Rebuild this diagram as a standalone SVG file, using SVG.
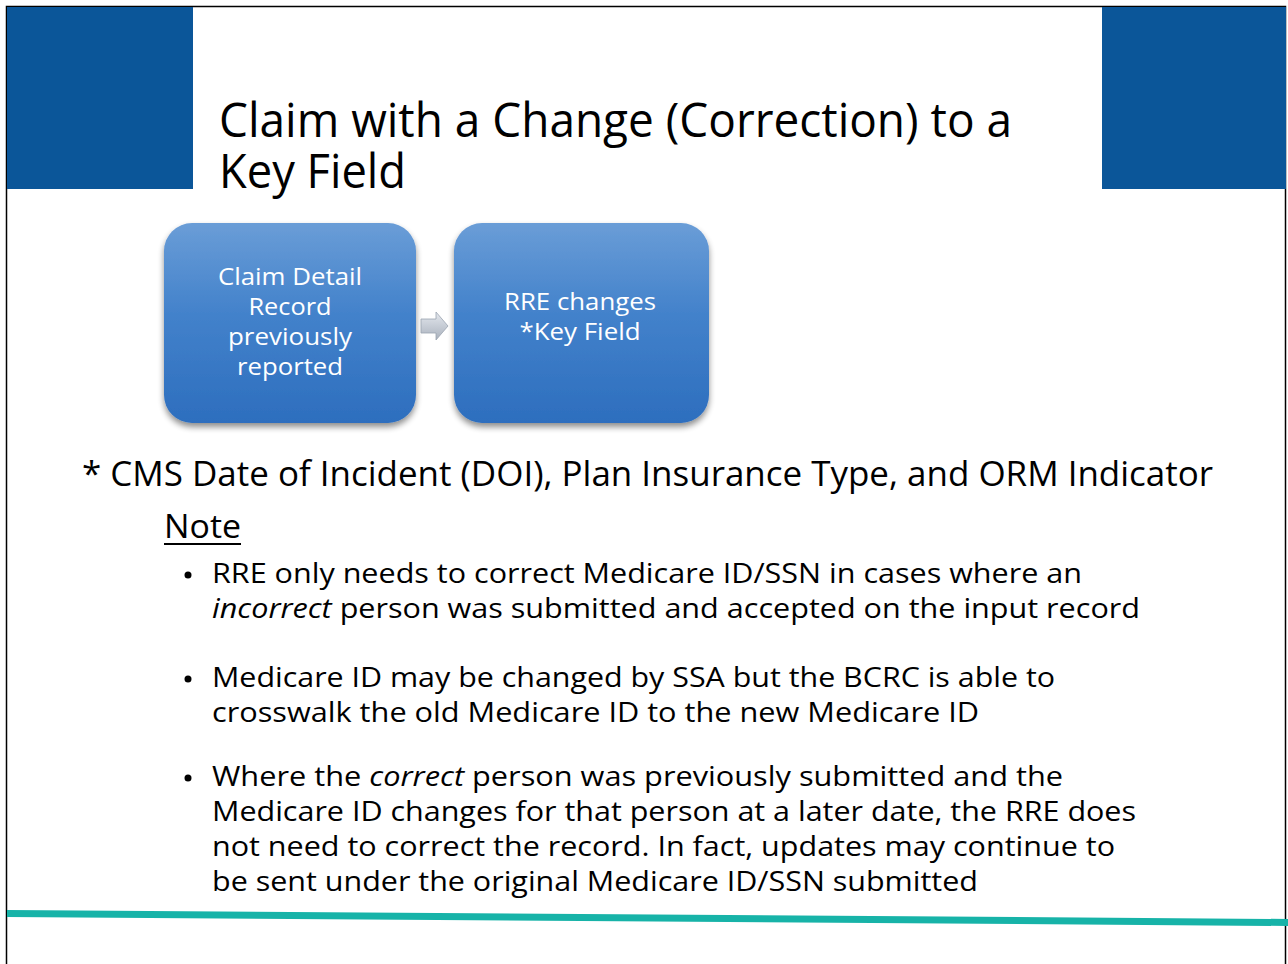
<svg xmlns="http://www.w3.org/2000/svg" width="1288" height="964" viewBox="0 0 1288 964">
<style>
.t{font-family:"Open Sans","Liberation Sans",sans-serif;fill:#000}
.bx{font-family:"Open Sans","Liberation Sans",sans-serif;fill:#fff;font-size:24px;text-anchor:middle}
.b{font-size:27px}
</style>
<defs>
<linearGradient id="g" x1="0" y1="0" x2="0" y2="1">
<stop offset="0" stop-color="#6a9dd7"/>
<stop offset="0.45" stop-color="#4382cb"/>
<stop offset="1" stop-color="#2d6ebe"/>
</linearGradient>
<linearGradient id="ag" x1="0" y1="0" x2="0" y2="1">
<stop offset="0" stop-color="#e4e8ee"/>
<stop offset="1" stop-color="#a9b1bd"/>
</linearGradient>
<filter id="sh" x="-10%" y="-10%" width="120%" height="130%">
<feGaussianBlur in="SourceAlpha" stdDeviation="3"/>
<feOffset dy="4"/>
<feComponentTransfer><feFuncA type="linear" slope="0.45"/></feComponentTransfer>
<feMerge><feMergeNode/><feMergeNode in="SourceGraphic"/></feMerge>
</filter>
</defs>
<rect x="0" y="0" width="1288" height="964" fill="#fff"/>
<rect x="6.5" y="6.5" width="1279" height="970" fill="none" stroke="#000" stroke-width="1.5"/>
<rect x="7" y="7" width="186" height="182" fill="#0b5699"/>
<rect x="1102" y="7" width="184" height="182" fill="#0b5699"/>
<g id="title">
<text class="t" x="219" y="137" font-size="48" textLength="793" lengthAdjust="spacingAndGlyphs">Claim with a Change (Correction) to a</text>
<text class="t" x="219" y="188" font-size="48" textLength="187" lengthAdjust="spacingAndGlyphs">Key Field</text>
</g>
<g id="node1">
<rect x="164" y="223" width="252" height="200" rx="28" fill="url(#g)" filter="url(#sh)"/>
<text class="bx" x="290" y="285" textLength="144" lengthAdjust="spacingAndGlyphs">Claim Detail</text>
<text class="bx" x="290" y="315" textLength="83" lengthAdjust="spacingAndGlyphs">Record</text>
<text class="bx" x="290" y="345" textLength="124" lengthAdjust="spacingAndGlyphs">previously</text>
<text class="bx" x="290" y="375" textLength="106" lengthAdjust="spacingAndGlyphs">reported</text>
</g>
<g id="node2">
<rect x="454" y="223" width="255" height="200" rx="28" fill="url(#g)" filter="url(#sh)"/>
<text class="bx" x="580" y="310" textLength="152" lengthAdjust="spacingAndGlyphs">RRE changes</text>
<text class="bx" x="580" y="340" textLength="121" lengthAdjust="spacingAndGlyphs">*Key Field</text>
</g>
<g id="connectors">
<path d="M421 319 H436 V312 L448 326 L436 340 V333 H421 Z" fill="url(#ag)" stroke="#9aa3b0" stroke-width="0.8"/>
</g>
<g id="body">
<text class="t" x="82" y="486" font-size="34" textLength="1131" lengthAdjust="spacingAndGlyphs">* CMS Date of Incident (DOI), Plan Insurance Type, and ORM Indicator</text>
<text class="t" x="164" y="538" font-size="32" textLength="77" lengthAdjust="spacingAndGlyphs">Note</text>
<rect x="164" y="543" width="77" height="2" fill="#000"/>
<g fill="#000">
<circle cx="188" cy="575" r="3.5"/>
<circle cx="188" cy="679" r="3.5"/>
<circle cx="188" cy="778" r="3.5"/>
</g>
<text class="t b" x="212" y="583" textLength="870" lengthAdjust="spacingAndGlyphs">RRE only needs to correct Medicare ID/SSN in cases where an</text>
<text class="t b" x="212" y="618" textLength="928" lengthAdjust="spacingAndGlyphs"><tspan font-style="italic">incorrect</tspan> person was submitted and accepted on the input record</text>
<text class="t b" x="212" y="687" textLength="843" lengthAdjust="spacingAndGlyphs">Medicare ID may be changed by SSA but the BCRC is able to</text>
<text class="t b" x="212" y="722" textLength="767" lengthAdjust="spacingAndGlyphs">crosswalk the old Medicare ID to the new Medicare ID</text>
<text class="t b" x="212" y="786" textLength="851" lengthAdjust="spacingAndGlyphs">Where the <tspan font-style="italic">correct</tspan> person was previously submitted and the</text>
<text class="t b" x="212" y="821" textLength="924" lengthAdjust="spacingAndGlyphs">Medicare ID changes for that person at a later date, the RRE does</text>
<text class="t b" x="212" y="856" textLength="903" lengthAdjust="spacingAndGlyphs">not need to correct the record. In fact, updates may continue to</text>
<text class="t b" x="212" y="891" textLength="766" lengthAdjust="spacingAndGlyphs">be sent under the original Medicare ID/SSN submitted</text>
</g>
<polygon points="7,910 1288,919 1288,926 7,917" fill="#17b3a8"/>
</svg>
